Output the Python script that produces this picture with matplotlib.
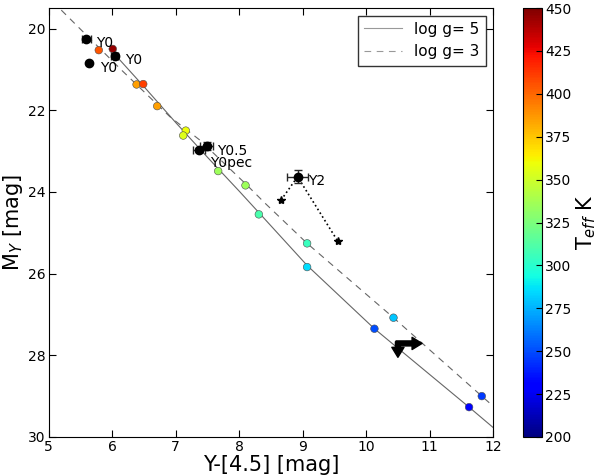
import numpy as np
import matplotlib
matplotlib.use('Agg')
import matplotlib.pyplot as plt

# model tracks (Y-[4.5], M_Y)
track_g5_x = [6.04, 6.50, 7.00, 7.50, 8.00, 8.33, 9.07, 10.13, 11.62, 12.0]
track_g5_y = [20.63, 21.42, 22.30, 23.15, 23.98, 24.54, 25.80, 27.35, 29.27, 29.77]
track_g3_x = [5.20, 6.15, 6.91, 7.38, 8.12, 8.41, 9.07, 10.43, 11.82, 11.98]
track_g3_y = [19.55, 21.02, 22.16, 22.73, 23.83, 24.28, 25.26, 27.08, 29.0, 29.22]

# model points coloured by Teff
mod_x = [5.79, 6.01, 6.385, 6.49, 6.71, 7.16, 7.12, 7.67, 8.10, 8.31, 9.07, 9.07, 10.43, 10.13, 11.82, 11.62]
mod_y = [20.53, 20.50, 21.37, 21.36, 21.90, 22.50, 22.62, 23.49, 23.84, 24.55, 25.26, 25.84, 27.08, 27.35, 29.0, 29.27]
mod_teff = [405, 445, 385, 410, 385, 360, 355, 335, 335, 310, 305, 285, 280, 250, 245, 232]

# observed Y dwarfs
obs_x = [5.59, 6.04, 5.64, 7.37, 7.49, 8.92]
obs_y = [20.26, 20.67, 20.85, 22.98, 22.88, 23.63]
obs_xerr = [0.07, 0.05, 0.0, 0.09, 0.10, 0.16]
obs_yerr = [0.04, 0.04, 0.0, 0.05, 0.10, 0.16]
obs_lab = ['Y0', 'Y0', 'Y0', 'Y0pec', 'Y0.5', 'Y2']
lab_x = [5.75, 6.20, 5.81, 7.55, 7.66, 9.09]
lab_y = [20.36, 20.77, 20.96, 23.30, 22.99, 23.73]

# stars connected to the Y2
star_x = [8.66, 8.92, 9.55]
star_y = [24.2, 23.63, 25.2]

fig = plt.figure(figsize=(6.0, 4.76), dpi=100)
ax = fig.add_axes([0.081, 0.082, 0.741, 0.901])
cax = fig.add_axes([0.872, 0.082, 0.032, 0.901])

ax.plot(track_g5_x, track_g5_y, '-', color='0.4', lw=0.8, label='log g= 5')
ax.plot(track_g3_x, track_g3_y, '--', color='0.4', lw=0.8, dashes=(6, 5), label='log g= 3')

sc = ax.scatter(mod_x, mod_y, c=mod_teff, cmap='jet', vmin=200, vmax=450, s=30,
                edgecolors='0.3', linewidths=0.4, zorder=3)

ax.plot(star_x, star_y, ':', color='k', lw=1.2, zorder=2)
ax.plot([star_x[0], star_x[2]], [star_y[0], star_y[2]], '*', color='k', ms=6, zorder=3)

for i in range(len(obs_x)):
    ax.errorbar(obs_x[i], obs_y[i], xerr=obs_xerr[i] or None, yerr=obs_yerr[i] or None,
                fmt='o', color='k', ms=6, ecolor='0.15', elinewidth=1, capsize=3, zorder=4)
    ax.text(lab_x[i], lab_y[i], obs_lab[i], fontsize=10, va='center', ha='left', zorder=5)

# limit arrows
arr = dict(arrowstyle='simple,head_width=1.1,head_length=0.9,tail_width=0.45',
           mutation_scale=8, color='k', shrinkA=0, shrinkB=0)
ax.annotate('', xy=(10.88, 27.71), xytext=(10.47, 27.71), arrowprops=arr, zorder=5)
ax.annotate('', xy=(10.5, 28.05), xytext=(10.5, 27.67), arrowprops=arr, zorder=5)

ax.set_xlim(5, 12)
ax.set_ylim(30, 19.5)
ax.set_xticks(np.arange(5, 13, 1))
ax.set_yticks(np.arange(20, 31, 2))
ax.tick_params(direction='in', top=True, right=True, labelsize=10, length=5, pad=2)
ax.set_xlabel('Y-[4.5] [mag]', fontsize=15, labelpad=1)
ax.set_ylabel('M$_Y$ [mag]', fontsize=15, labelpad=2)

leg = ax.legend(loc='upper right', fontsize=11, fancybox=False, handlelength=2.5)
leg.get_frame().set_edgecolor('k')
for ln in leg.get_lines():
    ln.set_color('0.6')

cb = fig.colorbar(sc, cax=cax, ticks=np.arange(200, 451, 25))
cb.ax.tick_params(labelsize=10, direction='in', length=4, pad=2)
cb.set_label('T$_{eff}$ K', fontsize=15, labelpad=2)

plt.savefig('out.png', dpi=100, facecolor='white')
plt.close()
